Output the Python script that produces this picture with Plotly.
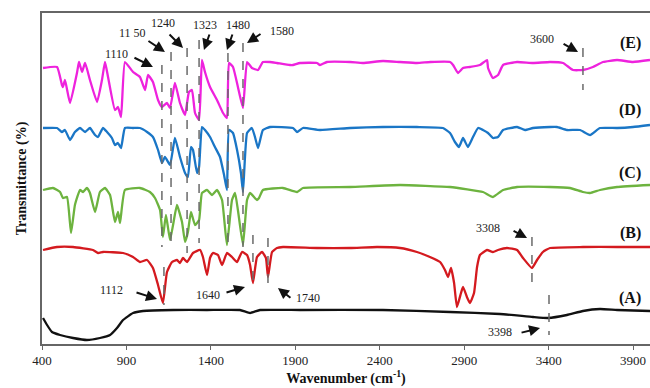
import plotly.graph_objects as go

# ---------------- data (wavenumber, transmittance in arbitrary offset units) ----------------
wn_E = [406, 489, 518, 524, 536, 566, 607, 619, 637, 655, 684, 726, 755, 773, 791, 832, 850, 868, 891,
        939, 980, 1010, 1028, 1057, 1087, 1110, 1140, 1158, 1187, 1217, 1247, 1270, 1288, 1306, 1330,
        1347, 1365, 1395, 1436, 1472, 1495, 1507, 1531, 1560, 1590, 1614, 1643, 1679, 1708, 1750, 1791,
        1868, 1886, 1928, 2028, 2046, 2087, 2224, 2300, 2419, 2520, 2620, 2700, 2816, 2834, 2863, 2893,
        2934, 2993, 3035, 3041, 3070, 3100, 3130, 3213, 3307, 3408, 3485, 3544, 3603, 3662, 3722, 3805,
        3899, 4000]
T_E = [276, 277, 259, 257, 264, 241, 271, 282, 272, 281, 264, 242, 264, 282, 267, 234, 237, 227, 282,
       272, 267, 254, 269, 262, 244, 237, 241, 236, 261, 241, 229, 252, 254, 231, 224,
       284, 272, 257, 244, 231, 226, 281, 277, 257, 236, 282, 276, 274, 282, 282, 281,
       279, 279, 281, 281, 279, 282, 282, 281, 283, 282, 281, 282, 282, 279, 271, 276,
       277, 279, 284, 276, 266, 269, 279, 282, 281, 282, 281, 274, 274, 277, 282, 284,
       282, 284]

wn_D = [406, 489, 518, 536, 566, 595, 625, 655, 684, 714, 732, 761, 785, 814, 832, 850, 868, 891, 939,
        980, 1022, 1057, 1087, 1110, 1128, 1158, 1187, 1217, 1247, 1264, 1282, 1294, 1318, 1330, 1347,
        1365, 1395, 1424, 1454, 1478, 1495, 1507, 1531, 1555, 1578, 1590, 1614, 1643, 1661, 1679, 1708,
        1750, 1886, 1910, 1945, 2046, 2224, 2419, 2620, 2774, 2816, 2845, 2869, 2893, 2922, 2952, 2982,
        3011, 3041, 3070, 3100, 3130, 3213, 3260, 3307, 3408, 3449, 3508, 3586, 3645, 3704, 3805, 3899,
        4000]
T_D = [216, 216, 212, 214, 204, 212, 216, 212, 216, 209, 207, 216, 212, 206, 199, 201, 196, 216, 216,
       216, 212, 207, 194, 181, 187, 179, 206, 187, 171, 167, 197, 194, 171, 177, 217,
       214, 207, 197, 187, 169, 154, 214, 211, 194, 171, 152, 211, 216, 207, 196, 214,
       217, 216, 212, 216, 214, 216, 217, 217, 216, 211, 202, 197, 206, 197, 207, 216,
       214, 211, 206, 207, 214, 217, 214, 216, 217, 217, 214, 214, 209, 216, 216, 217,
       219]

wn_C = [406, 465, 507, 524, 548, 572, 595, 625, 643, 666, 684, 714, 743, 773, 803, 832, 850, 862, 891,
        980, 1039, 1069, 1099, 1116, 1134, 1158, 1176, 1199, 1229, 1247, 1264, 1282, 1306, 1330, 1347,
        1377, 1407, 1436, 1466, 1495, 1525, 1543, 1560, 1590, 1614, 1632, 1673, 1685, 1708, 1827, 1910,
        1945, 2224, 2520, 2816, 3011, 3070, 3130, 3213, 3408, 3526, 3603, 3645, 3704, 3805, 4000]
T_C = [154, 156, 152, 146, 147, 111, 139, 154, 152, 156, 151, 132, 152, 156, 149, 122, 132, 121, 154,
       156, 152, 146, 134, 107, 129, 104, 119, 139, 122, 102, 112, 132, 119, 124, 151,
       154, 149, 154, 144, 99, 144, 151, 134, 99, 144, 151, 144, 146, 154, 156, 152,
       156, 157, 159, 157, 152, 147, 154, 157, 157, 156, 152, 151, 154, 157, 159]

wn_B = [406, 489, 584, 702, 732, 761, 880, 939, 980, 1022, 1057, 1087, 1116, 1140, 1170, 1199, 1217,
        1235, 1259, 1294, 1336, 1353, 1377, 1395, 1412, 1442, 1466, 1495, 1525, 1555, 1584, 1614, 1632,
        1649, 1673, 1703, 1726, 1738, 1762, 1791, 1827, 2028, 2224, 2384, 2520, 2620, 2697, 2757, 2786,
        2804, 2822, 2840, 2857, 2881, 2893, 2916, 2934, 2958, 2976, 2993, 3035, 3070, 3100, 3153, 3213,
        3248, 3301, 3331, 3366, 3408, 3603, 3805, 4000]
T_B = [94, 97, 97, 94, 91, 92, 91, 87, 82, 84, 76, 59, 41, 72, 82, 84, 81,
       86, 82, 91, 94, 87, 69, 86, 91, 89, 79, 91, 87, 82, 92, 89, 79,
       61, 87, 92, 86, 67, 92, 96, 97, 96, 96, 97, 96, 92, 87, 82, 74,
       67, 76, 61, 37, 51, 57, 47, 41, 51, 77, 89, 94, 92, 94, 96, 94,
       86, 76, 84, 92, 96, 97, 97, 97]

wn_A = [406, 430, 459, 507, 584, 666, 743, 803, 844, 880, 939, 998, 1176, 1377, 1572, 1632, 1691,
        1928, 2419, 2816, 3112, 3307, 3396, 3508, 3603, 3704, 3805, 4000]
T_A = [26, 19, 12, 9, 6, 4, 6, 9, 16, 24, 31, 33, 34, 34, 34, 31, 34,
       34, 34, 32, 30, 27, 26, 29, 33, 35, 34, 33]

series_names = ["(E)", "(D)", "(C)", "(B)", "(A)"]
series_colors = ["#EE22DD", "#1A76C6", "#6DB33F", "#D41A1F", "#111111"]

# marked band positions (label, wavenumber of dashed line, dashed T range)
band_labels = ["1110", "11 50", "1240", "1323", "1480", "1580", "3600", "3308", "3398", "1112", "1640", "1740"]
band_wn = [1110, 1164, 1259, 1330, 1501, 1590, 3603, 3301, 3402, 1122, 1649, 1738]
band_T0 = [279, 292, 296, 304, 291, 301, 296, 107, 49, 77, 109, 106]
band_T1 = [97, 96, 91, 101, 96, 97, 254, 56, 9, 39, 56, 54]
# label text positions and arrow heads / tails (pixel offsets)
lab_wn = [844, 933, 1116, 1365, 1560, 1821, 3360, 3041, 3112, 814, 1383, 1975]
lab_T = [290, 311, 321, 319, 319, 313, 305, 116, 12, 54, 49, 46]
head_wn = [1057, 1128, 1235, 1359, 1495, 1614, 3574, 3272, 3349, 1081, 1602, 1797]
head_T = [277, 292, 296, 294, 294, 301, 292, 106, 16, 45, 57, 56]
tail_dx = [-20, -18, -15, 6, 6, 15, -16, -15, -20, -22, -20, 14]
tail_dy = [-10, -12, -15, -17, -17, -10, -9, -8, 5, -7, 6, 11]

tick_vals = [400, 900, 1400, 1900, 2400, 2900, 3400, 3900]
series_label_wn = 3882
series_label_T = [301, 234, 171, 111, 46]

FONT = "Liberation Serif, Times New Roman, serif"

fig = go.Figure()
for name, xs, ys, col in zip(series_names,
                             [wn_E, wn_D, wn_C, wn_B, wn_A],
                             [T_E, T_D, T_C, T_B, T_A],
                             series_colors):
    fig.add_trace(go.Scatter(x=xs, y=ys, mode="lines", name=name,
                             line=dict(color=col, width=2.3, shape="spline", smoothing=0.4),
                             showlegend=False))

shapes = []
for w, a, b in zip(band_wn, band_T0, band_T1):
    shapes.append(dict(type="line", xref="x", yref="y", x0=w, x1=w, y0=a, y1=b,
                       line=dict(color="#6a6a6a", width=1.5, dash="dash")))

annotations = []
for t, x, y in zip(band_labels, lab_wn, lab_T):
    annotations.append(dict(x=x, y=y, xref="x", yref="y", text=t, showarrow=False,
                            font=dict(family=FONT, size=12, color="#222")))
for x, y, dx, dy in zip(head_wn, head_T, tail_dx, tail_dy):
    annotations.append(dict(x=x, y=y, xref="x", yref="y", text="", showarrow=True,
                            ax=dx, ay=dy, arrowhead=2, arrowsize=1.1, arrowwidth=2,
                            arrowcolor="#111"))
for name, y in zip(series_names, series_label_T):
    annotations.append(dict(x=series_label_wn, y=y, xref="x", yref="y", text="<b>" + name + "</b>",
                            showarrow=False, font=dict(family=FONT, size=16, color="#111")))

fig.update_layout(
    width=650, height=388,
    margin=dict(l=42, r=0, t=13, b=44),
    paper_bgcolor="white", plot_bgcolor="white",
    font=dict(family=FONT, color="#222"),
    shapes=shapes, annotations=annotations,
    xaxis=dict(range=[400, 4000], tickvals=tick_vals, ticktext=[str(v) for v in tick_vals],
               showline=True, linecolor="#666", linewidth=1.5, mirror=True,
               ticks="outside", ticklen=4, tickcolor="#666", showgrid=False, zeroline=False,
               tickfont=dict(family=FONT, size=13, color="#222"),
               title=dict(text="<b>Wavenumber (cm<sup>-1</sup>)</b>", standoff=6,
                          font=dict(family=FONT, size=14, color="#111"))),
    yaxis=dict(range=[0, 331], showline=True, linecolor="#666", linewidth=1.5,
               showticklabels=False, ticks="", showgrid=False, zeroline=False,
               title=dict(text="<b>Transmittance (%)</b>", standoff=10,
                          font=dict(family=FONT, size=14, color="#111"))),
)

fig.write_html("out.html", config={"displayModeBar": False},
               post_script="document.body.style.margin='0';document.body.style.overflow='hidden';")
